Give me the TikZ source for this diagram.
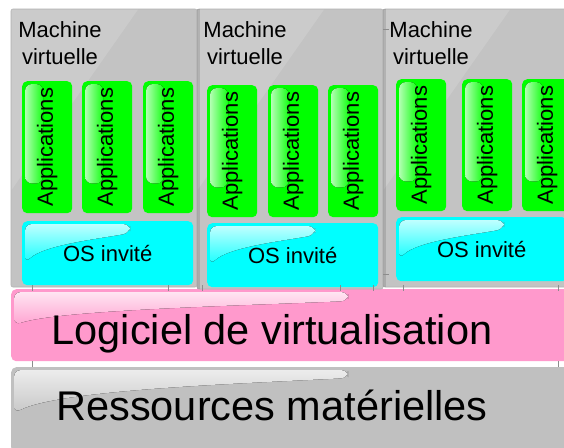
\documentclass[tikz,border=0pt]{standalone}
\usepackage{fontspec}
\setmainfont{Liberation Sans}
\definecolor{vmgray}{HTML}{C3C3C3}
\definecolor{appgreen}{HTML}{00FF00}
\definecolor{oscyan}{HTML}{00FFFF}
\definecolor{hvpink}{HTML}{FF99CC}
\definecolor{hwgray}{HTML}{C0C0C0}
\newcommand{\glossOS}[1]{%
  \fill[os gloss] ([shift={(3,42)}]#1.north west) -- ([shift={(3,3)}]#1.north west)
    -- ([shift={(108,3)}]#1.north west) -- ([shift={(108,12)}]#1.north west)
    .. controls ([shift={(75,18)}]#1.north west) and ([shift={(22,24)}]#1.north west)
    .. ([shift={(3,42)}]#1.north west) -- cycle;}
\newcommand{\glossApp}[1]{%
  \fill[app gloss] ([shift={(3,3)}]#1.north west) rectangle ([shift={(21,-30)}]#1.south west);}
\begin{document}
\begin{tikzpicture}[x=1pt,y=-1pt,
  vmbox/.style={draw=black!30, line width=0.6pt, fill=vmgray, rounded corners=2pt},
  vm gloss/.style={fill=white, fill opacity=0.14},
  appbox/.style={fill=appgreen, rounded corners=5pt, anchor=north west, minimum width=50pt, minimum height=132pt, inner sep=0pt},
  app gloss/.style={left color=white!70!appgreen, right color=appgreen!92!white, rounded corners=7pt},
  apptext/.style={rotate=90, font=\fontsize{22}{26}\selectfont, inner sep=0pt},
  osbox/.style={fill=oscyan, rounded corners=5pt, anchor=north west, minimum width=171pt, minimum height=64pt, inner sep=0pt},
  os gloss/.style={top color=white!75!oscyan, bottom color=oscyan!92!white, rounded corners=7pt},
  ostext/.style={font=\fontsize{22}{26}\selectfont, inner sep=0pt},
  vmtext/.style={font=\fontsize{22}{27}\selectfont, align=center, inner sep=0pt, anchor=base},
  bigtext/.style={font=\fontsize{41.5}{48}\selectfont, inner sep=0pt, anchor=base},
  pink gloss/.style={top color=white!75!hvpink, bottom color=hvpink!90!white, rounded corners=7pt},
  gray gloss/.style={top color=white!70!hwgray, bottom color=hwgray!88!white, rounded corners=7pt},
  tick/.style={draw=black!45, line width=0.5pt}]
\useasboundingbox (0,0) rectangle (564,447);
\fill[white] (0,0) rectangle (564,447);

% hardware layer
\node[fill=hwgray, rounded corners=5pt, anchor=north west, minimum width=570pt, minimum height=85pt, inner sep=0pt] (hw) at (11,367) {};
\fill[gray gloss] (14,413) -- (14,370) -- (348,370) -- (348,378)
  .. controls (230,384) and (60,390) .. (14,413) -- cycle;
\node[bigtext] (hwt) at (272,420) {Ressources matérielles};

% hypervisor layer
\node[fill=hvpink, rounded corners=5pt, anchor=north west, minimum width=570pt, minimum height=72pt, inner sep=0pt] (hv) at (11,289) {};
\fill[pink gloss] (14,325) -- (14,292) -- (348,292) -- (348,301)
  .. controls (230,306) and (60,310) .. (14,325) -- cycle;
\node[bigtext] (hvt) at (272,344) {Logiciel de virtualisation};

% virtual machines (back to front)
\foreach \n/\l/\r/\b in {vm1/11/197/287, vm2/197/383/289, vm3/383/575/287}{
  \path[vmbox] (\l,9) rectangle (\r,\b);
  \fill[vm gloss] (\l+0.5,9.5) -- (\l+127,9.5) -- (\l+0.5,190) -- cycle;
  \coordinate (\n) at (\l,9);
  \ifnum\l=11 \else
  \fill[black, opacity=0.12] (\l,9) rectangle (\l+3,\b);
  \fi
  \ifnum\l=11
    \foreach \a/\x in {a11/22, a12/82, a13/143}{
      \node[appbox] (\a) at (\x,81) {}; \glossApp{\a}
      \node[apptext] (\a t) at (\a) {Applications};}
    \node[osbox] (os1) at (22,221) {}; \glossOS{os1}
    \node[ostext] (os1t) at (os1) {OS invité};
    \node[vmtext] (vm1t) at (60,64) {Machine\\virtuelle};
  \fi
  \ifnum\l=197
    \foreach \a/\x in {a21/207, a22/268, a23/328}{
      \node[appbox] (\a) at (\x,85) {}; \glossApp{\a}
      \node[apptext] (\a t) at (\a) {Applications};}
    \node[osbox] (os2) at (207,223) {}; \glossOS{os2}
    \node[ostext] (os2t) at (os2) {OS invité};
    \node[vmtext] (vm2t) at (245,64) {Machine\\virtuelle};
  \fi
  \ifnum\l=383
    \foreach \a/\x in {a31/396, a32/462, a33/522}{
      \node[appbox] (\a) at (\x,79) {}; \glossApp{\a}
      \node[apptext] (\a t) at (\a) {Applications};}
    \node[osbox] (os3) at (396,217) {}; \glossOS{os3}
    \node[ostext] (os3t) at (os3) {OS invité};
    \node[vmtext] (vm3t) at (431,64) {Machine\\virtuelle};
  \fi
}

% small guide ticks
\foreach \x in {32,168,202,340,373,403,558}{
  \draw[tick] (\x,285) -- (\x,291);}
\foreach \x in {32,558}{
  \draw[tick] (\x,361) -- (\x,367);}
\draw[tick] (383,29) -- (389,29);
\draw[tick] (383,274) -- (389,274);
\end{tikzpicture}
\end{document}
